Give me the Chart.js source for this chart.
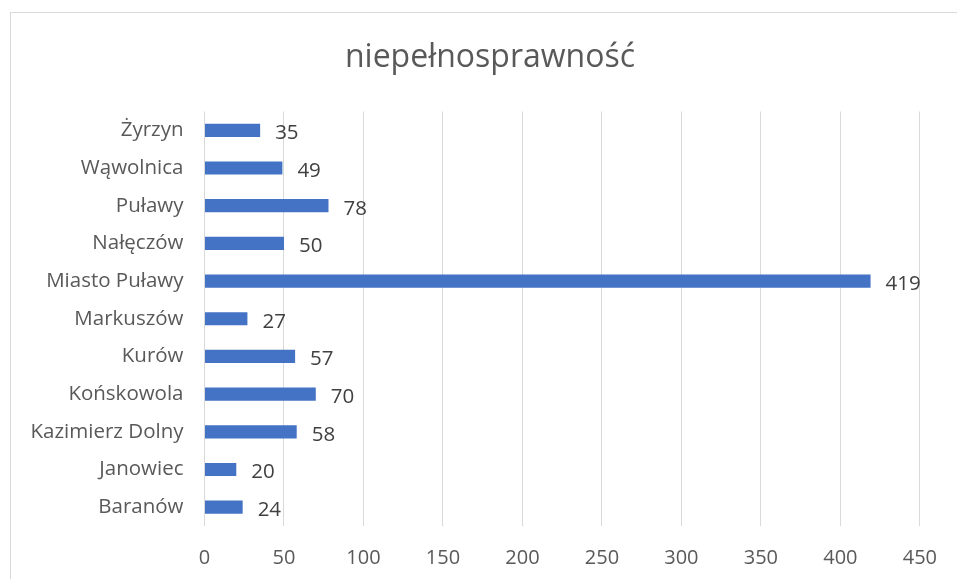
<!DOCTYPE html>
<html>
<head>
<meta charset="utf-8">
<script src="https://cdn.jsdelivr.net/npm/chart.js@4/dist/chart.umd.min.js"></script>
<style>
  html, body { margin: 0; padding: 0; background: #fff; }
  #wrap { width: 957px; height: 579px; position: relative; }
</style>
</head>
<body>
<div id="wrap"><canvas id="grafico" width="957" height="579"></canvas></div>
<script>
const tytul = 'niepełnosprawność';
const gminy = ['Żyrzyn', 'Wąwolnica', 'Puławy', 'Nałęczów', 'Miasto Puławy', 'Markuszów',
  'Kurów', 'Końskowola', 'Kazimierz Dolny', 'Janowiec', 'Baranów'];
const wartosci = [35, 49, 78, 50, 419, 27, 57, 70, 58, 20, 24];
const osX = { min: 0, max: 450, krok: 50 };

const kolorSlupka = '#4472C4';
const kolorTekstu = '#595959';
const czcionka = '"Open Sans", "Noto Sans", sans-serif';

// ramka wykresu jak w Excelu + tytuł
const ramka = {
  id: 'ramka',
  beforeDraw(chart) {
    const { ctx } = chart;
    ctx.save();
    ctx.strokeStyle = '#d9d9d9';
    ctx.lineWidth = 1;
    ctx.strokeRect(10.5, 12.5, 1000, 700);
    ctx.fillStyle = kolorTekstu;
    ctx.font = '32px ' + czcionka;
    ctx.textAlign = 'center';
    ctx.textBaseline = 'middle';
    ctx.fillText(tytul, 490, 58);
    ctx.restore();
  }
};

// etykiety wartości przy słupkach
const etykiety = {
  id: 'etykiety',
  afterDatasetsDraw(chart) {
    const { ctx } = chart;
    const meta = chart.getDatasetMeta(0);
    ctx.save();
    ctx.fillStyle = '#404040';
    ctx.font = '20.5px ' + czcionka;
    ctx.textAlign = 'left';
    ctx.textBaseline = 'middle';
    meta.data.forEach((bar, i) => {
      ctx.fillText(String(wartosci[i]), bar.x + 15, bar.y + 3);
    });
    ctx.restore();
  }
};

const ctx = document.getElementById('grafico').getContext('2d');
new Chart(ctx, {
  type: 'bar',
  data: {
    labels: gminy,
    datasets: [{
      data: wartosci,
      backgroundColor: kolorSlupka,
      barPercentage: 0.35,
      categoryPercentage: 1
    }]
  },
  options: {
    indexAxis: 'y',
    responsive: false,
    animation: false,
    layout: { padding: { left: 0, right: 34.5, top: 111.5, bottom: 0 } },
    plugins: {
      legend: { display: false },
      tooltip: { enabled: false },
      title: { display: false }
    },
    scales: {
      x: {
        min: osX.min,
        max: osX.max,
        ticks: {
          stepSize: osX.krok,
          color: kolorTekstu,
          padding: 20,
          font: { family: czcionka, size: 20 }
        },
        grid: { color: '#d9d9d9', drawTicks: false },
        border: { display: false },
        afterFit(scale) { scale.height = 53; }
      },
      y: {
        ticks: {
          color: kolorTekstu,
          padding: 21,
          autoSkip: false,
          font: { family: czcionka, size: 20.5 }
        },
        grid: { display: false, drawTicks: false },
        border: { display: false },
        afterFit(scale) { scale.width = 204.5; }
      }
    }
  },
  plugins: [ramka, etykiety]
});
</script>
</body>
</html>
